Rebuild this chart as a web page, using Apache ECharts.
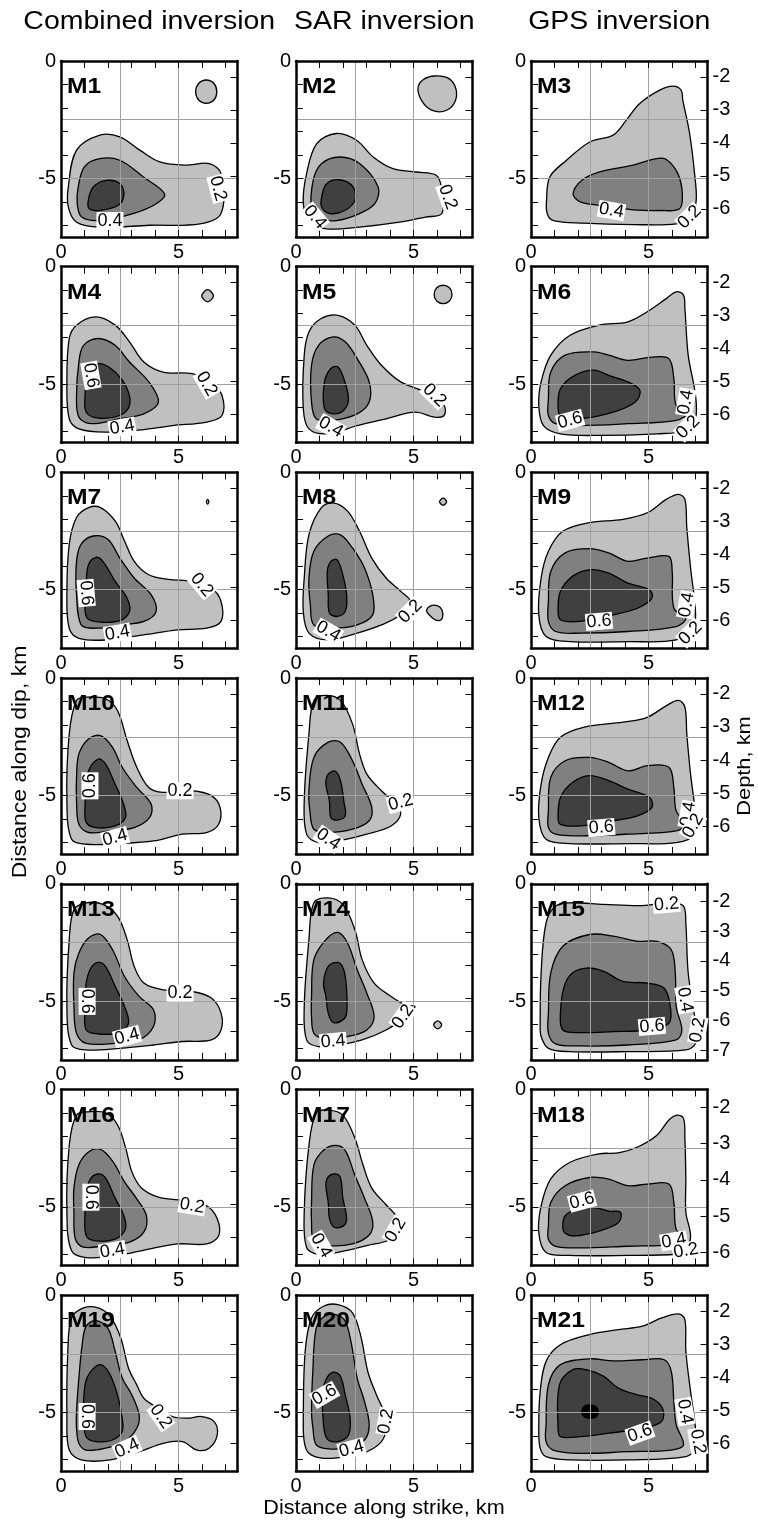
<!DOCTYPE html>
<html><head><meta charset="utf-8">
<script src="https://cdn.jsdelivr.net/npm/echarts@6/dist/echarts.min.js"></script>
<style>html,body{margin:0;padding:0;background:#fff}#c{width:758px;height:1524px}</style>
</head><body><div id="c"></div>
<script>
// ---------------- DATA ----------------
const columnTitles = ['Combined inversion', 'SAR inversion', 'GPS inversion'];
const panelNames = ['M1','M2','M3','M4','M5','M6','M7','M8','M9','M10','M11','M12','M13','M14','M15','M16','M17','M18','M19','M20','M21'];
const xTicks = [1,2,3,4,5,6,7];
const xLabels = [0,5];
const yTicks = [-1,-2,-3,-4,-5,-6,-7];
const yLabels = [0,-5];
const depthTicks = [-2,-3,-4,-5,-6];
const depthTicksM15 = [-2,-3,-4,-5,-6,-7];
// depth axis extent [bottom, top] for each panel
const depthExtent = [
  [-6.85,-1.52],[-6.85,-1.52],[-6.85,-1.52],
  [-6.85,-1.52],[-6.85,-1.52],[-6.85,-1.52],
  [-6.85,-1.52],[-6.85,-1.52],[-6.85,-1.52],
  [-6.85,-1.52],[-6.85,-1.52],[-6.85,-1.52],
  [-6.85,-1.52],[-6.85,-1.52],[-7.31,-1.42],
  [-6.85,-1.52],[-6.85,-1.52],[-6.36,-1.51],
  [-6.85,-1.52],[-6.85,-1.52],[-6.85,-1.52]
];

// contour 0.2 (outer) polygons, one per panel [strike km, dip km]
const level02 = [
 [[0.31,-5.37],[0.66,-3.8],[1.65,-3.16],[2.5,-3.23],[3.35,-3.8],[4.2,-4.3],[5.3,-4.44],[6.3,-4.37],[6.8,-4.8],[6.8,-6.5],[5.9,-6.94],[3.77,-7.0],[1.65,-7.08],[0.66,-6.87],[0.31,-6.22]],
 [[0.31,-6.08],[0.45,-4.8],[0.88,-3.52],[1.72,-3.09],[2.57,-3.38],[3.28,-4.09],[4.12,-4.59],[5.1,-4.73],[5.96,-4.87],[6.2,-5.5],[6.2,-6.5],[5.5,-6.65],[4.4,-6.87],[2.7,-7.08],[1.3,-7.15],[0.6,-6.87]],
 [[0.66,-5.94],[0.8,-4.94],[1.51,-4.23],[2.5,-3.45],[3.49,-3.16],[4.05,-2.52],[4.62,-1.81],[5.47,-1.24],[6.03,-1.07],[6.38,-1.24],[6.45,-1.67],[6.74,-3.09],[6.95,-4.8],[7.02,-5.94],[6.8,-6.65],[6.17,-6.94],[4.34,-6.97],[2.22,-6.91],[0.95,-6.8],[0.69,-6.51]],
 [[0.25,-4.91],[0.35,-3.06],[0.66,-2.49],[1.48,-2.14],[2.3,-2.49],[2.91,-3.2],[3.52,-4.06],[4.34,-4.49],[5.57,-4.56],[6.39,-4.91],[6.84,-5.48],[6.84,-6.34],[6.19,-6.62],[4.75,-6.77],[3.52,-6.94],[1.89,-7.05],[0.76,-6.91],[0.35,-6.48]],
 [[0.31,-6.05],[0.35,-3.77],[0.55,-2.78],[1.07,-2.21],[1.78,-2.07],[2.5,-2.49],[3.01,-3.35],[3.63,-4.2],[4.45,-4.91],[5.47,-5.34],[6.29,-5.91],[6.29,-6.34],[5.88,-6.41],[5.06,-6.2],[3.83,-6.48],[2.6,-6.77],[1.37,-7.12],[0.55,-6.91]],
 [[0.33,-5.91],[0.43,-4.91],[0.84,-3.77],[1.66,-2.92],[2.89,-2.49],[4.12,-2.35],[4.94,-1.92],[5.76,-1.35],[6.17,-1.07],[6.48,-1.21],[6.54,-1.78],[6.68,-3.77],[6.99,-5.48],[6.99,-6.48],[6.58,-6.98],[5.35,-7.12],[2.89,-7.19],[1.25,-7.12],[0.53,-6.77]],
 [[0.25,-5.2],[0.35,-3.06],[0.66,-1.92],[1.17,-1.5],[1.68,-1.5],[2.3,-2.07],[2.7,-2.92],[3.11,-3.79],[3.73,-4.36],[4.55,-4.56],[5.57,-4.64],[6.39,-4.93],[6.8,-5.5],[6.8,-6.35],[6.19,-6.64],[4.96,-6.71],[3.52,-6.92],[1.89,-7.14],[0.76,-7.07],[0.35,-6.64]],
 [[0.31,-5.93],[0.35,-4.5],[0.55,-2.65],[1.07,-1.51],[1.58,-1.3],[2.19,-1.65],[2.7,-2.51],[3.22,-3.65],[3.83,-4.5],[4.45,-5.07],[4.86,-5.5],[4.45,-6.07],[3.63,-6.5],[2.6,-6.85],[1.37,-7.14],[0.55,-6.85]],
 [[0.33,-6.07],[0.43,-4.5],[0.74,-3.36],[1.35,-2.51],[2.48,-2.14],[3.91,-2.0],[4.94,-1.72],[5.76,-1.14],[6.27,-0.94],[6.54,-1.15],[6.62,-2.35],[6.78,-4.07],[6.99,-5.93],[6.89,-6.64],[6.17,-7.14],[4.12,-7.21],[1.66,-7.21],[0.64,-6.99]],
 [[0.25,-5.23],[0.35,-2.38],[0.66,-0.95],[1.07,-0.81],[1.89,-0.88],[2.4,-1.38],[2.81,-2.66],[3.22,-3.8],[3.73,-4.66],[4.34,-4.87],[5.57,-4.8],[6.39,-5.01],[6.76,-5.51],[6.7,-6.23],[6.19,-6.58],[5.16,-6.65],[3.93,-6.94],[2.5,-7.05],[1.07,-7.08],[0.45,-6.87]],
 [[0.35,-5.23],[0.55,-2.38],[0.76,-0.95],[1.27,-0.74],[1.89,-0.95],[2.4,-1.95],[2.7,-3.23],[3.01,-4.09],[3.63,-4.8],[4.24,-5.37],[4.45,-5.8],[4.04,-6.3],[3.01,-6.65],[1.78,-6.94],[0.96,-7.01],[0.45,-6.65]],
 [[0.33,-5.94],[0.43,-4.52],[0.74,-3.38],[1.25,-2.52],[2.27,-2.09],[3.91,-1.88],[4.94,-1.67],[5.76,-1.17],[6.27,-0.95],[6.54,-1.24],[6.62,-2.38],[6.78,-4.09],[6.99,-5.8],[6.99,-6.65],[6.17,-7.01],[4.12,-7.05],[1.66,-7.05],[0.64,-6.87]],
 [[0.25,-5.23],[0.35,-2.38],[0.55,-1.1],[1.07,-0.81],[1.78,-0.88],[2.4,-1.38],[2.81,-2.38],[3.11,-3.52],[3.52,-4.23],[4.34,-4.52],[5.57,-4.59],[6.39,-4.87],[6.8,-5.51],[6.8,-6.23],[6.39,-6.65],[5.16,-6.72],[3.93,-6.87],[2.5,-7.01],[1.07,-7.08],[0.45,-6.87]],
 [[0.35,-5.23],[0.55,-2.38],[0.76,-0.81],[1.37,-0.6],[1.99,-0.88],[2.5,-1.95],[2.81,-3.23],[3.32,-4.23],[4.04,-4.8],[4.65,-5.16],[5.06,-5.23],[4.65,-5.66],[3.83,-6.23],[2.81,-6.65],[1.78,-6.87],[0.96,-6.94],[0.45,-6.65]],
 [[0.39,-5.94],[0.43,-3.8],[0.64,-1.67],[1.05,-0.95],[1.66,-0.81],[3.09,-0.88],[4.73,-0.93],[5.96,-0.81],[6.48,-0.95],[6.58,-1.67],[6.68,-3.8],[6.99,-5.94],[6.99,-6.8],[6.58,-7.08],[4.12,-7.15],[1.66,-7.15],[0.74,-7.01],[0.43,-6.51]],
 [[0.25,-5.23],[0.35,-2.38],[0.66,-1.09],[1.17,-0.95],[1.89,-1.0],[2.4,-1.5],[2.75,-2.5],[3.01,-3.5],[3.42,-4.2],[4.14,-4.59],[5.16,-4.73],[6.19,-4.96],[6.64,-5.51],[6.7,-6.23],[6.19,-6.58],[4.96,-6.58],[3.73,-6.8],[2.3,-7.09],[1.07,-7.16],[0.45,-6.87]],
 [[0.35,-5.23],[0.55,-2.38],[0.86,-1.0],[1.37,-0.88],[1.99,-1.09],[2.5,-2.07],[2.85,-3.22],[3.22,-4.2],[3.83,-4.91],[4.34,-5.47],[4.55,-5.8],[4.04,-6.38],[3.01,-6.65],[1.78,-6.94],[0.96,-7.02],[0.45,-6.73]],
 [[0.33,-6.1],[0.43,-4.96],[0.84,-3.81],[1.66,-3.1],[2.89,-2.74],[3.71,-2.7],[4.53,-2.45],[5.35,-1.95],[5.86,-1.3],[6.21,-1.09],[6.48,-1.23],[6.54,-2.08],[6.58,-3.81],[6.58,-5.23],[6.78,-6.23],[6.58,-6.87],[6.17,-7.02],[4.12,-7.07],[1.66,-7.07],[0.64,-6.95]],
 [[0.25,-5.24],[0.29,-2.39],[0.45,-0.97],[0.96,-0.54],[1.58,-0.54],[2.09,-0.9],[2.54,-1.82],[2.87,-3.11],[3.22,-3.82],[3.52,-4.39],[4.14,-4.82],[4.75,-5.18],[5.37,-5.24],[5.98,-5.17],[6.5,-5.38],[6.64,-5.95],[6.29,-6.52],[5.78,-6.6],[5.16,-6.24],[4.34,-6.31],[3.32,-6.67],[2.09,-7.02],[0.86,-7.02],[0.35,-6.6]],
 [[0.31,-5.24],[0.39,-2.39],[0.66,-0.97],[1.17,-0.47],[1.78,-0.4],[2.4,-0.75],[2.77,-1.82],[3.05,-3.25],[3.42,-4.25],[3.73,-4.96],[3.83,-5.67],[3.63,-6.24],[3.01,-6.67],[2.19,-6.88],[1.17,-6.95],[0.55,-6.74],[0.35,-6.24]],
 [[0.33,-5.67],[0.39,-4.1],[0.64,-2.82],[1.25,-2.11],[2.48,-1.68],[3.71,-1.47],[4.73,-1.32],[5.55,-0.97],[6.27,-0.8],[6.54,-1.04],[6.58,-2.39],[6.78,-4.1],[6.99,-5.67],[6.99,-6.52],[6.58,-6.88],[4.12,-7.02],[1.66,-7.02],[0.64,-6.88],[0.39,-6.52]]
];

// contour 0.4 polygons
const level04 = [
 [[0.73,-5.37],[1.0,-4.5],[1.65,-4.16],[2.5,-4.23],[3.5,-4.94],[4.4,-5.66],[4.05,-6.08],[3.06,-6.5],[1.65,-6.8],[0.88,-6.65],[0.69,-6.08]],
 [[0.66,-6.37],[0.73,-5.09],[1.09,-4.37],[1.86,-4.09],[2.7,-4.37],[3.49,-5.37],[3.35,-6.08],[2.7,-6.5],[1.72,-6.8],[0.95,-6.72]],
 [[1.79,-5.66],[2.15,-5.09],[2.92,-4.73],[4.34,-4.44],[5.33,-4.16],[5.75,-4.2],[6.24,-4.8],[6.43,-5.66],[6.31,-6.3],[5.47,-6.37],[4.34,-6.34],[2.92,-6.15],[2.07,-5.99]],
 [[0.66,-5.48],[0.76,-4.06],[0.96,-3.35],[1.58,-3.06],[2.3,-3.35],[2.91,-4.06],[3.73,-4.91],[4.14,-5.77],[3.52,-6.27],[2.5,-6.48],[1.27,-6.69],[0.76,-6.41]],
 [[0.66,-5.77],[0.66,-4.2],[0.96,-3.35],[1.58,-2.99],[2.09,-3.2],[2.6,-3.92],[3.11,-4.91],[3.11,-5.77],[2.6,-6.27],[1.58,-6.55],[0.86,-6.48]],
 [[0.74,-5.63],[0.84,-4.49],[1.45,-3.77],[2.68,-3.63],[3.3,-3.77],[4.12,-3.99],[5.14,-3.85],[5.86,-3.92],[6.07,-4.77],[6.17,-5.91],[6.68,-6.2],[6.17,-6.55],[4.12,-6.69],[2.07,-6.77],[1.05,-6.69],[0.74,-6.34]],
 [[0.66,-5.21],[0.66,-3.79],[0.86,-3.06],[1.37,-2.71],[1.99,-2.85],[2.5,-3.65],[3.11,-4.5],[3.83,-5.21],[4.04,-5.93],[3.52,-6.35],[2.5,-6.5],[1.48,-6.64],[0.86,-6.5]],
 [[0.61,-5.64],[0.55,-4.5],[0.76,-3.36],[1.37,-2.71],[1.89,-2.66],[2.4,-3.22],[2.91,-4.07],[3.26,-5.21],[3.26,-6.07],[2.6,-6.5],[1.58,-6.64],[0.76,-6.5]],
 [[0.74,-5.5],[0.84,-4.22],[1.45,-3.43],[2.48,-3.25],[3.3,-3.43],[4.12,-3.79],[4.94,-3.65],[5.86,-3.58],[6.0,-4.22],[6.07,-5.79],[6.58,-6.21],[6.17,-6.57],[4.12,-6.78],[2.07,-6.85],[1.05,-6.78],[0.74,-6.35]],
 [[0.66,-5.23],[0.66,-4.23],[0.76,-3.23],[1.17,-2.59],[1.68,-2.45],[2.19,-2.95],[2.6,-3.8],[3.22,-4.66],[3.83,-5.37],[3.77,-5.94],[3.11,-6.37],[2.09,-6.51],[1.17,-6.58],[0.76,-6.23]],
 [[0.59,-5.66],[0.55,-4.8],[0.76,-3.38],[1.37,-2.73],[1.89,-2.73],[2.4,-3.52],[2.81,-4.52],[3.22,-5.51],[3.11,-6.08],[2.4,-6.44],[1.37,-6.58],[0.76,-6.44]],
 [[0.74,-5.66],[0.84,-4.23],[1.45,-3.52],[2.48,-3.38],[3.3,-3.59],[4.12,-3.95],[4.94,-3.73],[5.86,-3.8],[6.07,-4.66],[6.17,-5.66],[6.58,-6.23],[6.17,-6.51],[4.12,-6.65],[2.07,-6.72],[1.05,-6.65],[0.74,-6.37]],
 [[0.55,-5.23],[0.55,-3.8],[0.76,-2.95],[1.17,-2.31],[1.68,-2.16],[2.19,-2.81],[2.7,-3.95],[3.32,-4.8],[3.93,-5.37],[3.93,-6.08],[3.32,-6.65],[2.3,-6.8],[1.07,-6.8],[0.66,-6.37]],
 [[0.66,-5.66],[0.66,-4.8],[0.76,-3.23],[1.27,-2.38],[1.78,-2.07],[2.19,-2.52],[2.6,-3.66],[3.01,-4.66],[3.32,-5.66],[3.01,-6.23],[2.19,-6.51],[1.17,-6.58],[0.76,-6.37]],
 [[0.74,-5.51],[0.84,-3.8],[1.35,-2.66],[2.48,-2.16],[3.5,-2.23],[4.53,-2.45],[5.35,-2.45],[5.96,-2.81],[6.13,-3.8],[6.17,-5.23],[6.41,-6.23],[6.17,-6.65],[4.12,-6.87],[2.07,-6.91],[1.05,-6.82],[0.74,-6.37]],
 [[0.55,-5.23],[0.55,-4.2],[0.76,-3.21],[1.17,-2.66],[1.68,-2.55],[2.19,-3.05],[2.7,-3.94],[3.22,-4.66],[3.63,-5.38],[3.52,-6.08],[2.91,-6.5],[1.89,-6.65],[0.96,-6.72],[0.61,-6.37]],
 [[0.66,-5.65],[0.66,-4.8],[0.76,-3.22],[1.17,-2.59],[1.68,-2.38],[2.09,-2.59],[2.5,-3.65],[2.91,-4.63],[3.26,-5.63],[3.11,-6.2],[2.4,-6.58],[1.37,-6.65],[0.76,-6.43]],
 [[0.74,-5.82],[0.84,-4.82],[1.45,-4.1],[2.48,-3.75],[3.3,-3.82],[4.12,-4.1],[4.94,-4.03],[5.86,-4.03],[6.07,-4.82],[6.17,-5.96],[6.58,-6.38],[6.17,-6.6],[4.12,-6.68],[2.07,-6.75],[1.05,-6.68],[0.74,-6.38]],
 [[0.66,-5.67],[0.66,-4.96],[0.76,-3.53],[0.9,-2.11],[1.07,-1.32],[1.48,-1.08],[1.99,-1.4],[2.3,-2.39],[2.6,-3.53],[3.01,-4.25],[3.32,-5.1],[3.22,-5.67],[2.7,-6.24],[1.89,-6.52],[1.07,-6.6],[0.76,-6.31]],
 [[0.72,-5.67],[0.66,-4.96],[0.72,-3.11],[0.86,-1.4],[1.21,-0.9],[1.68,-0.83],[2.09,-1.11],[2.36,-2.11],[2.6,-3.53],[2.91,-4.53],[3.11,-5.52],[2.91,-6.17],[2.19,-6.5],[1.37,-6.55],[0.86,-6.38]],
 [[0.64,-5.52],[0.74,-3.82],[1.25,-2.96],[2.48,-2.71],[3.5,-2.8],[4.73,-2.75],[5.66,-2.75],[5.96,-3.25],[6.07,-4.53],[6.17,-5.52],[6.48,-6.38],[5.96,-6.6],[4.12,-6.67],[2.07,-6.74],[0.94,-6.6],[0.64,-6.24]]
];

// contour 0.6 polygons (null = none)
const level06 = [
 [[1.16,-5.94],[1.37,-5.37],[1.93,-5.09],[2.5,-5.23],[2.67,-5.73],[2.43,-6.15],[1.65,-6.37],[1.2,-6.3]],
 [[1.09,-5.8],[1.3,-5.23],[1.86,-5.06],[2.43,-5.37],[2.5,-5.94],[2.08,-6.37],[1.44,-6.5],[1.09,-6.22]],
 null,
 [[1.02,-5.48],[1.07,-4.91],[1.27,-4.34],[1.68,-4.13],[2.3,-4.49],[2.81,-5.2],[2.91,-5.91],[2.5,-6.34],[1.58,-6.45],[1.07,-6.19]],
 [[1.21,-6.05],[1.21,-4.91],[1.48,-4.34],[1.78,-4.27],[2.03,-4.77],[2.23,-5.63],[2.03,-6.12],[1.58,-6.27]],
 [[1.15,-5.91],[1.25,-5.2],[1.86,-4.63],[2.68,-4.41],[3.3,-4.63],[4.12,-4.91],[4.63,-5.27],[4.43,-5.77],[3.5,-6.2],[2.07,-6.48],[1.25,-6.34]],
 [[1.02,-5.5],[1.07,-4.64],[1.17,-3.93],[1.48,-3.62],[1.78,-3.79],[2.3,-4.64],[2.81,-5.36],[2.91,-5.93],[2.5,-6.32],[1.68,-6.38],[1.11,-6.21]],
 [[1.37,-5.21],[1.33,-4.22],[1.48,-3.79],[1.74,-3.72],[1.95,-4.22],[2.15,-5.21],[2.09,-5.93],[1.74,-6.14],[1.42,-5.99]],
 [[1.15,-5.79],[1.25,-5.07],[1.76,-4.43],[2.48,-4.15],[3.3,-4.29],[4.12,-4.72],[5.04,-5.0],[5.14,-5.36],[4.53,-5.79],[3.5,-6.07],[2.07,-6.35],[1.25,-6.28]],
 [[1.02,-5.51],[1.07,-4.66],[1.17,-3.95],[1.58,-3.45],[1.89,-3.66],[2.3,-4.52],[2.66,-5.37],[2.74,-5.94],[2.3,-6.3],[1.48,-6.37],[1.07,-6.15]],
 [[1.42,-5.23],[1.27,-4.52],[1.37,-4.09],[1.68,-3.97],[1.89,-4.37],[2.03,-5.23],[2.09,-5.87],[1.74,-6.05],[1.48,-5.94]],
 [[1.15,-5.94],[1.25,-5.09],[1.76,-4.45],[2.48,-4.16],[3.3,-4.37],[4.12,-4.73],[5.04,-5.09],[5.14,-5.51],[4.53,-5.87],[3.5,-6.08],[2.07,-6.3],[1.25,-6.23]],
 [[1.02,-5.23],[1.07,-4.23],[1.27,-3.59],[1.58,-3.35],[1.89,-3.52],[2.3,-4.37],[2.7,-5.23],[2.87,-5.94],[2.5,-6.34],[1.58,-6.4],[1.07,-6.23]],
 [[1.27,-4.8],[1.17,-4.23],[1.37,-3.52],[1.78,-3.35],[2.03,-3.66],[2.15,-4.52],[2.15,-5.51],[1.99,-5.8],[1.58,-5.91],[1.37,-5.51]],
 [[1.25,-5.51],[1.41,-4.37],[1.76,-3.8],[2.38,-3.59],[3.09,-3.73],[3.91,-4.16],[4.94,-4.23],[5.66,-4.45],[5.92,-5.23],[5.86,-5.94],[4.94,-6.23],[3.5,-6.3],[2.07,-6.34],[1.35,-6.23]],
 [[1.02,-5.2],[1.07,-4.47],[1.23,-3.84],[1.58,-3.6],[1.89,-3.77],[2.3,-4.63],[2.66,-5.35],[2.74,-5.94],[2.3,-6.38],[1.48,-6.45],[1.07,-6.23]],
 [[1.37,-4.8],[1.27,-4.08],[1.37,-3.72],[1.68,-3.6],[1.89,-3.77],[1.99,-4.63],[2.15,-5.48],[2.03,-5.8],[1.62,-5.87],[1.42,-5.48]],
 [[1.35,-5.82],[1.45,-5.38],[1.96,-5.1],[2.68,-5.03],[3.3,-5.18],[3.81,-5.24],[3.71,-5.68],[2.89,-6.03],[1.86,-6.24],[1.45,-6.13]],
 [[0.96,-5.24],[1.02,-3.82],[1.27,-3.25],[1.68,-2.96],[2.05,-3.32],[2.4,-4.25],[2.6,-5.24],[2.6,-5.81],[2.19,-6.17],[1.48,-6.24],[1.07,-6.03]],
 [[1.17,-5.52],[1.13,-4.25],[1.27,-3.6],[1.58,-3.28],[1.89,-3.46],[2.09,-4.25],[2.3,-5.24],[2.23,-5.95],[1.78,-6.24],[1.33,-6.13]],
 [[1.15,-5.67],[1.21,-3.82],[1.76,-3.18],[2.38,-3.18],[3.09,-3.46],[3.71,-3.96],[4.53,-4.25],[5.14,-4.39],[5.59,-4.82],[5.55,-5.38],[4.73,-5.67],[3.3,-5.88],[2.07,-6.03],[1.25,-6.03]]
];

// isolated small patches: [panel index, level (0=0.2, 3=0.8), polygon]
const islands = [
 [0, 0, [[5.72,-1.31],[5.85,-0.96],[6.17,-0.81],[6.5,-0.96],[6.62,-1.31],[6.5,-1.66],[6.17,-1.8],[5.85,-1.66]]],
 [1, 0, [[5.18,-1.2],[5.4,-0.8],[5.9,-0.64],[6.5,-0.75],[6.8,-1.2],[6.75,-1.75],[6.4,-2.1],[5.9,-2.14],[5.45,-1.85]]],
 [3, 0, [[5.98,-1.24],[6.23,-0.98],[6.48,-1.24],[6.23,-1.5]]],
 [4, 0, [[5.87,-1.18],[5.98,-0.9],[6.25,-0.79],[6.52,-0.9],[6.63,-1.18],[6.52,-1.46],[6.25,-1.57],[5.98,-1.46]]],
 [6, 0, [[6.18,-1.25],[6.23,-1.15],[6.28,-1.25],[6.23,-1.35]]],
 [7, 0, [[6.1,-1.25],[6.25,-1.1],[6.4,-1.25],[6.25,-1.4]]],
 [7, 0, [[5.55,-5.9],[5.7,-5.7],[6.0,-5.68],[6.2,-5.85],[6.22,-6.2],[6.05,-6.32],[5.8,-6.2]]],
 [13, 0, [[5.85,-6.01],[6.02,-5.84],[6.19,-6.01],[6.02,-6.18]]],
 [20, 3, [[2.16,-4.96],[2.28,-4.72],[2.52,-4.68],[2.76,-4.75],[2.86,-4.96],[2.76,-5.2],[2.52,-5.24],[2.28,-5.2]]]
];

// contour labels: [panel index, x, y, text, angle deg]
const contourLabels = [
 [0,2.08,-6.8,'0.4',0],[0,6.67,-5.44,'0.2',-75],
 [1,0.8,-6.65,'0.4',-50],[1,6.45,-5.8,'0.2',-70],
 [2,3.42,-6.37,'0.4',-10],[2,6.74,-6.65,'0.2',45],
 [3,1.27,-4.63,'0.6',-80],[3,2.6,-6.84,'0.4',10],[3,6.19,-4.99,'0.2',-60],
 [4,5.88,-5.48,'0.2',-45],[4,1.48,-6.84,'0.4',-30],
 [5,1.66,-6.55,'0.6',15],[5,6.58,-5.77,'0.4',80],[5,6.68,-6.84,'0.2',45],
 [6,1.07,-5.14,'0.6',-85],[6,2.4,-6.85,'0.4',10],[6,5.98,-4.79,'0.2',-50],
 [7,4.86,-5.93,'0.2',45],[7,1.37,-6.78,'0.4',-30],
 [8,2.89,-6.35,'0.6',5],[8,6.62,-5.64,'0.4',80],[8,6.78,-6.85,'0.2',45],
 [9,1.23,-4.59,'0.6',90],[9,2.3,-6.8,'0.4',15],[9,5.06,-4.8,'0.2',0],
 [10,4.45,-5.3,'0.2',15],[10,1.37,-6.87,'0.4',-35],
 [11,2.99,-6.37,'0.6',5],[11,6.68,-5.8,'0.4',80],[11,6.89,-6.3,'0.2',60],
 [12,1.11,-5.01,'0.6',-90],[12,2.81,-6.51,'0.4',15],[12,5.06,-4.66,'0.2',0],
 [13,4.55,-5.66,'0.2',55],[13,1.58,-6.72,'0.4',5],
 [14,5.76,-0.88,'0.2',5],[14,6.54,-4.94,'0.4',-80],[14,5.14,-6.08,'0.6',5],[14,7.09,-6.23,'0.2',80],
 [15,1.27,-4.59,'0.6',-90],[15,2.19,-6.87,'0.4',10],[15,5.57,-4.96,'0.2',-10],
 [16,4.24,-5.99,'0.2',60],[16,1.07,-6.65,'0.4',-60],
 [17,2.17,-4.75,'0.6',15],[17,6.07,-6.45,'0.4',10],[17,6.58,-6.87,'0.2',10],
 [18,1.11,-5.17,'0.6',-90],[18,2.81,-6.52,'0.4',25],[18,4.24,-5.17,'0.2',-55],
 [19,1.21,-4.25,'0.6',30],[19,2.36,-6.55,'0.4',15],[19,3.83,-5.38,'0.2',80],
 [20,6.54,-4.96,'0.4',-80],[20,4.63,-5.88,'0.6',20],[20,7.09,-6.24,'0.2',-80]
];

// ---------------- STYLE / LAYOUT ----------------
const FILLS = ['#c0c0c0', '#808080', '#404040', '#000000'];
const FONT = '"Liberation Sans", Arial, sans-serif';
const PW = 176.5, PH = 176;
const colLeft = c => 61 + 235 * c;
const rowTop = r => 61 + 205.7 * r;

const chart = echarts.init(document.getElementById('c'), null, {renderer: 'canvas'});
const option = {animation: false, backgroundColor: '#fff', grid: [], xAxis: [], yAxis: [], series: [], graphic: []};

const borderLine = {show: true, onZero: false, lineStyle: {color: '#000', width: 2.5}};
const tickStyle = (vals) => ({show: true, inside: true, length: 7, customValues: vals, lineStyle: {color: '#000', width: 1}});
const labelStyle = (vals, show) => ({show: show, customValues: vals, margin: 5, color: '#000', fontSize: 20, fontFamily: FONT});

panelNames.forEach((name, p) => {
  const r = Math.floor(p / 3), c = p % 3;
  const left = colLeft(c), top = rowTop(r);
  option.grid.push({left: left, top: top, width: PW, height: PH, containLabel: false});
  const xi = option.xAxis.length, yi = option.yAxis.length;
  option.xAxis.push({gridIndex: p, type: 'value', position: 'bottom', min: 0, max: 7.5, z: 4,
    axisLine: borderLine, axisTick: tickStyle(xTicks), axisLabel: labelStyle(xLabels, true), splitLine: {show: false}});
  option.xAxis.push({gridIndex: p, type: 'value', position: 'top', min: 0, max: 7.5, z: 4,
    axisLine: borderLine, axisTick: tickStyle(xTicks), axisLabel: {show: false}, splitLine: {show: false}});
  option.xAxis.push({gridIndex: p, type: 'value', position: 'bottom', min: 0, max: 7.5, interval: 2.5, z: 3,
    axisLine: {show: false}, axisTick: {show: false}, axisLabel: {show: false},
    splitLine: {show: true, lineStyle: {color: '#a0a0a0', width: 1}}});
  option.yAxis.push({gridIndex: p, type: 'value', position: 'left', min: -7.5, max: 0, z: 4,
    axisLine: borderLine, axisTick: tickStyle(yTicks), axisLabel: labelStyle(yLabels, true), splitLine: {show: false}});
  const dTicks = (p === 14) ? depthTicksM15 : depthTicks;
  option.yAxis.push({gridIndex: p, type: 'value', position: 'right', min: depthExtent[p][0], max: depthExtent[p][1], z: 4,
    axisLine: borderLine, axisTick: tickStyle(dTicks), axisLabel: labelStyle(dTicks, c === 2), splitLine: {show: false}});
  option.yAxis.push({gridIndex: p, type: 'value', position: 'left', min: -7.5, max: 0, interval: 2.5, z: 3,
    axisLine: {show: false}, axisTick: {show: false}, axisLabel: {show: false},
    splitLine: {show: true, lineStyle: {color: '#a0a0a0', width: 1}}});

  const polys = [];
  if (level02[p]) polys.push({level: 0, pts: level02[p]});
  islands.filter(d => d[0] === p && d[1] === 0).forEach(d => polys.push({level: 0, pts: d[2]}));
  if (level04[p]) polys.push({level: 1, pts: level04[p]});
  if (level06[p]) polys.push({level: 2, pts: level06[p]});
  islands.filter(d => d[0] === p && d[1] === 3).forEach(d => polys.push({level: 3, pts: d[2]}));

  option.series.push({
    type: 'custom', name: name + ' slip', xAxisIndex: xi, yAxisIndex: yi, z: 2, clip: true, silent: true,
    data: polys.map((d, i) => [i]),
    renderItem: function (params, api) {
      const d = polys[params.dataIndex];
      const pts = d.pts.map(pt => api.coord(pt));
      return {type: 'polygon', shape: {points: pts, smooth: 0.35},
        style: {fill: FILLS[d.level], stroke: '#000', lineWidth: 1.3}};
    }
  });

  const labs = contourLabels.filter(d => d[0] === p);
  option.series.push({
    type: 'custom', name: name + ' labels', xAxisIndex: xi, yAxisIndex: yi, z: 6, clip: false, silent: true,
    data: labs.map((d, i) => [i]),
    renderItem: function (params, api) {
      const d = labs[params.dataIndex];
      const pt = api.coord([d[1], d[2]]);
      return {type: 'text', x: pt[0], y: pt[1], rotation: d[4] * Math.PI / 180,
        style: {text: d[3], fill: '#000', font: '18px ' + FONT, align: 'center', verticalAlign: 'middle',
          textAlign: 'center', textVerticalAlign: 'middle', backgroundColor: '#fff', padding: [0, 1, -1, 1]}};
    }
  });

  option.graphic.push({type: 'text', x: left + 6, y: top + 26, scaleX: 1.12, z: 20,
    style: {text: name, fill: '#000', font: 'bold 22px ' + FONT, align: 'left', verticalAlign: 'middle',
      textAlign: 'left', textVerticalAlign: 'middle'}});
});

columnTitles.forEach((t, c) => {
  option.graphic.push({type: 'text', x: colLeft(c) + PW / 2, y: 22, scaleX: 1.14, z: 20,
    style: {text: t, fill: '#000', font: '25px ' + FONT, align: 'center', verticalAlign: 'middle', textAlign: 'center', textVerticalAlign: 'middle'}});
});
option.graphic.push({type: 'text', x: 384, y: 1508, scaleX: 1.08, z: 20,
  style: {text: 'Distance along strike, km', fill: '#000', font: '20px ' + FONT, align: 'center', verticalAlign: 'middle', textAlign: 'center', textVerticalAlign: 'middle'}});
option.graphic.push({type: 'text', x: 20, y: 762, rotation: Math.PI / 2, scaleX: 1.15, z: 20,
  style: {text: 'Distance along dip, km', fill: '#000', font: '20px ' + FONT, align: 'center', verticalAlign: 'middle', textAlign: 'center', textVerticalAlign: 'middle'}});
option.graphic.push({type: 'text', x: 745, y: 766, rotation: Math.PI / 2, scaleX: 1.15, z: 20,
  style: {text: 'Depth, km', fill: '#000', font: '19px ' + FONT, align: 'center', verticalAlign: 'middle', textAlign: 'center', textVerticalAlign: 'middle'}});

chart.setOption(option);
</script>
</body></html>
